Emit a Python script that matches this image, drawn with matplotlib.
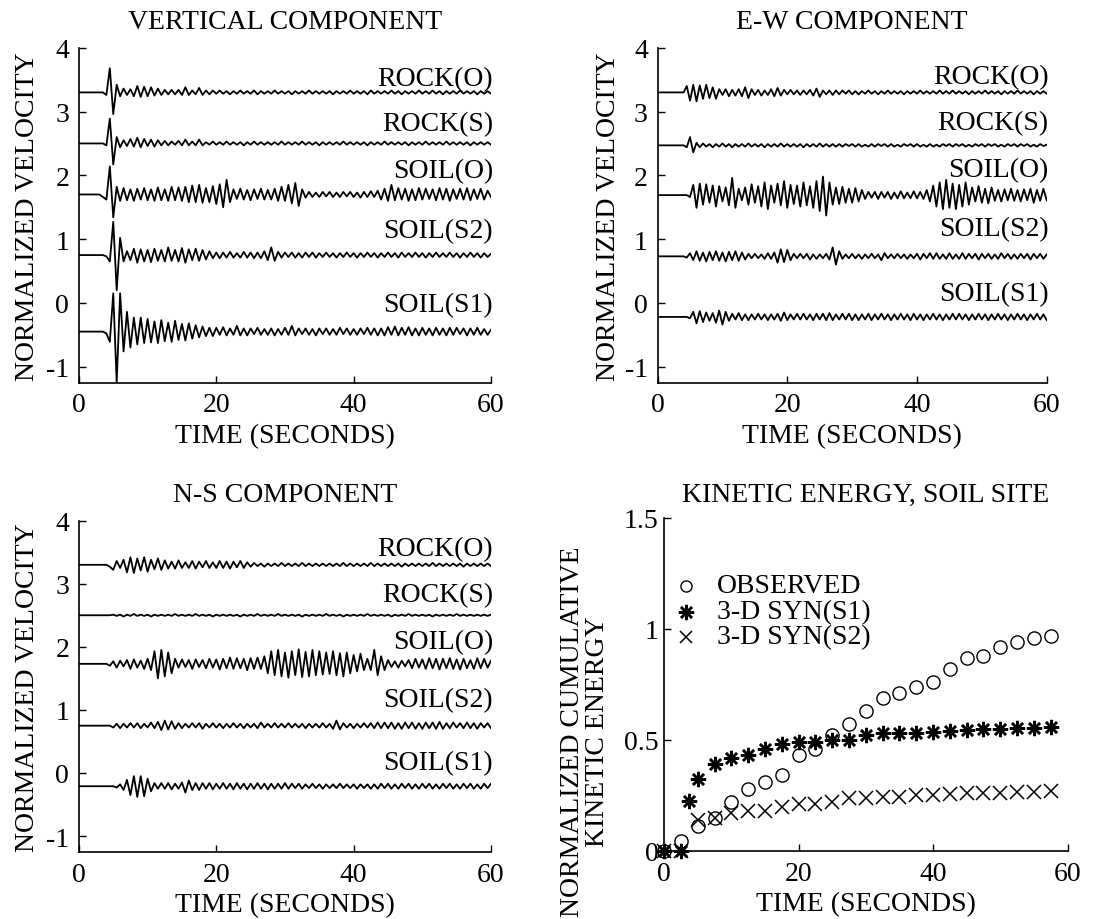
import matplotlib.pyplot as plt
import numpy as np

plt.rcParams['font.family'] = ['Liberation Serif', 'DejaVu Serif']
plt.rcParams['font.size'] = 20
plt.rcParams['axes.unicode_minus'] = False

# ---- seismogram data: signed half-cycle peaks (hundredths), 0.5 s apart ----
trace_names = ['ROCK(O)', 'ROCK(S)', 'SOIL(O)', 'SOIL(S2)', 'SOIL(S1)']
step = 0.5

# vertical component
vert_bases = [3.3, 2.5, 1.7, 0.75, -0.45]
vert_label_y = [3.52, 2.81, 2.08, 1.14, -0.02]
vert_onsets = [4.0, 4.0, 3.5, 4.0, 4.0]
vert_rock_o = [-4, 38, -34, 12, -6, 6, -4, 5, -6, 10, -7, 9, -6, 8, -5, 6,
               -4, 4, -3, 4, -3, 4, -4, 8, -4, 3, -3, 7, -4, 3, -3, 3,
               -2, 3, -2, 2, -3, 2, -2, 3, -2, 2, -2, 3, -3, 2, -2, 2,
               -2, 3, -2, 2, -2, 2, -3, 2, -2, 2, -2, 3, -2, 2, -2, 2,
               -2, 2, -3, 2, -2, 2, -2, 3, -2, 2, -2, 2, -3, 3, -2, 2,
               -2, 2, -2, 3, -2, 2, -3, 2, -2, 2, -2, 3, -2, 2, -2, 3,
               -2, 2, -3, 2, -2, 2, -2, 3, -2, 2, -2, 2, -3, 2, -2, 2, -2]
vert_rock_s = [-3, 39, -33, 10, -6, 5, -4, 7, -5, 9, -6, 7, -4, 6, -5, 5,
               -3, 4, -3, 3, -2, 4, -3, 6, -3, 3, -3, 6, -3, 2, -2, 3,
               -2, 2, -2, 3, -2, 2, -2, 2, -3, 2, -2, 3, -2, 2, -2, 2,
               -2, 2, -2, 3, -2, 2, -2, 2, -2, 3, -2, 2, -2, 2, -3, 2,
               -2, 2, -2, 2, -2, 3, -2, 2, -2, 2, -2, 2, -3, 2, -2, 2,
               -2, 3, -2, 2, -2, 2, -2, 2, -3, 2, -2, 2, -2, 3, -2, 2,
               -2, 2, -2, 3, -2, 2, -2, 2, -2, 2, -3, 2, -2, 2, -2, 2, -2]
vert_soil_o = [-4, -8, 44, -36, 12, -10, 10, -9, 8, -10, 9, -8, 10, -9, 8, -10,
               11, -9, 8, -10, 12, -9, 11, -10, 12, -12, 14, -12, 15, -13, 10, -12,
               13, -15, 16, -20, 23, -12, 8, -7, 9, -8, 7, -9, 8, -7, 9, -8,
               7, -8, 9, -10, 12, -10, 15, -14, 18, -18, 8, -5, 4, -4, 3, -4,
               4, -3, 4, -4, 3, -4, 4, -3, 4, -4, 3, -5, 4, -4, 5, -4,
               6, -8, 9, -10, 15, -9, 10, -8, 9, -10, 8, -9, 10, -8, 9, -7,
               8, -9, 10, -8, 9, -10, 8, -7, 9, -8, 10, -9, 8, -7, 9, -8,
               6, -4]
vert_soil_s2 = [-2, -10, 52, -55, 27, -10, 6, -8, 10, -12, 9, -10, 8, -11, 10, -9,
                8, -10, 12, -9, 8, -10, 11, -12, 9, -8, 10, -9, 8, -7, 6, -5,
                4, -5, 4, -4, 5, -4, 3, -4, 5, -4, 4, -5, 4, -5, 6, -8,
                12, -9, 5, -4, 4, -3, 4, -4, 3, -4, 4, -3, 4, -4, 3, -3,
                4, -3, 3, -4, 3, -3, 4, -3, 3, -4, 3, -3, 4, -3, 3, -4,
                3, -3, 4, -3, 3, -4, 4, -3, 3, -3, 4, -3, 3, -4, 3, -3,
                4, -3, 3, -3, 4, -3, 3, -4, 3, -3, 4, -3, 3, -4, 3, -3, 2]
vert_soil_s1 = [-3, -16, 60, -80, 60, -31, 31, -25, 22, -20, 22, -18, 20, -17, 16, -18,
                18, -15, 14, -16, 17, -13, 12, -14, 13, -11, 10, -9, 8, -7, 6, -7,
                6, -5, 7, -6, 5, -5, 9, -6, 5, -6, 5, -4, 6, -5, 4, -5,
                5, -6, 4, -5, 6, -5, 9, -6, 5, -4, 5, -5, 4, -6, 5, -4,
                5, -5, 4, -5, 6, -4, 5, -5, 4, -5, 5, -4, 6, -5, 5, -6,
                5, -6, 7, -5, 8, -6, 6, -5, 7, -6, 5, -6, 6, -5, 5, -6,
                6, -5, 5, -6, 6, -5, 6, -4, 5, -6, 5, -5, 6, -5, 4, -5, 3]

# E-W component
ew_bases = [3.3, 2.47, 1.69, 0.73, -0.22]
ew_label_y = [3.55, 2.83, 2.09, 1.16, 0.15]
ew_onsets = [4.5, 4.5, 5.0, 4.5, 5.0]
ew_rock_o = [10, -13, 12, -14, 11, -10, 12, -9, 8, -10, 5, -4, 5, -6, 4, -5,
             5, -6, 8, -9, 5, -4, 4, -5, 3, -4, 5, -6, 7, -5, 4, -3,
             4, -3, 3, -4, 3, -3, 4, -5, 6, -7, 3, -3, 3, -4, 3, -3,
             3, -2, 3, -3, 2, -3, 2, -2, 3, -2, 2, -3, 2, -2, 3, -2,
             2, -2, 2, -3, 2, -2, 2, -2, 3, -2, 2, -2, 2, -2, 3, -2,
             2, -2, 3, -2, 2, -2, 2, -3, 2, -2, 2, -2, 3, -2, 2, -2,
             2, -3, 2, -2, 2, -2, 3, -2, 2, -2, 2, -3, 2, -2, 2, -2]
ew_rock_s = [-3, 13, -11, 4, -3, 3, -2, 2, -3, 2, -2, 3, -2, 2, -3, 2,
             -2, 2, -2, 3, -2, 2, -2, 2, -3, 2, -2, 2, -2, 3, -2, 2,
             -2, 2, -2, 2, -3, 2, -2, 2, -2, 3, -2, 2, -2, 2, -2, 2,
             -2, 2, -1, 2, -2, 2, -2, 1, -2, 2, -2, 2, -1, 2, -2, 2,
             -2, 1, -2, 2, -1, 2, -2, 2, -2, 1, -2, 2, -2, 1, -2, 2,
             -1, 2, -2, 2, -1, 2, -2, 1, -2, 2, -1, 2, -2, 2, -1, 2,
             -2, 1, -2, 2, -1, 2, -2, 2, -1, 2, -2, 1, -2, 2, -1, 1]
ew_soil_o = [-3, 16, -20, 18, -15, 17, -12, 15, -18, 14, -10, 12, -16, 27, -20, 10,
             -8, 12, -15, 17, -12, 14, -18, 20, -22, 15, -12, 18, -16, 22, -20, 16,
             -14, 15, -18, 20, -16, 14, -20, 22, -25, 29, -32, 20, -15, 12, -14, 13,
             -12, 10, -12, 11, -10, 8, -6, 5, -4, 5, -6, 5, -4, 5, -6, 4,
             -5, 6, -5, 4, -5, 6, -5, 5, -6, 8, -10, 15, -18, 20, -22, 24,
             -20, 18, -22, 16, -18, 20, -15, 12, -10, 14, -12, 10, -13, 12, -9, 8,
             -10, 9, -8, 10, -9, 8, -10, 9, -8, 10, -12, 8, -9, 10, -8]
ew_soil_s2 = [-2, 5, -6, 8, -7, 6, -8, 7, -6, 8, -7, 6, -8, 7, -6, 8,
              -7, 6, -5, 4, -3, 4, -3, 3, -4, 5, -4, 6, -10, 11, -9, 10,
              -6, 4, -3, 4, -3, 4, -5, 3, -4, 3, -3, 4, -5, 14, -13, 8,
              -4, 3, -3, 4, -3, 3, -4, 3, -3, 4, -3, 3, -6, 5, -3, 3,
              -3, 4, -3, 3, -4, 3, -3, 4, -5, 4, -3, 5, -4, 5, -4, 3,
              -4, 5, -4, 3, -4, 5, -4, 4, -3, 4, -5, 4, -3, 4, -4, 3,
              -4, 5, -3, 4, -4, 3, -4, 4, -3, 4, -5, 4, -3, 4, -4, 3]
ew_soil_s1 = [-2, 8, -10, 9, -8, 7, -6, 6, -9, 10, -12, 8, -6, 5, -4, 6,
              -5, 4, -5, 4, -4, 5, -4, 4, -5, 4, -4, 5, -6, 7, -5, 4,
              -4, 5, -4, 5, -4, 4, -5, 5, -4, 5, -5, 6, -5, 4, -4, 5,
              -4, 5, -5, 4, -5, 4, -4, 5, -5, 4, -4, 5, -4, 4, -5, 4,
              -4, 5, -4, 4, -5, 5, -4, 4, -5, 4, -4, 5, -4, 4, -5, 4,
              -4, 5, -4, 5, -4, 4, -5, 4, -4, 5, -4, 4, -5, 4, -4, 5,
              -4, 4, -5, 4, -4, 5, -4, 4, -5, 4, -4, 5, -4, 4, -5]

# N-S component
ns_bases = [3.3, 2.5, 1.73, 0.75, -0.21]
ns_label_y = [3.55, 2.83, 2.09, 1.16, 0.16]
ns_onsets = [4.5, 5.0, 4.5, 5.0, 5.5]
ns_rock_o = [-3, -8, 6, -5, 8, -12, 12, -13, 10, -9, 12, -11, 8, -7, 10, -8,
             7, -6, 5, -6, 7, -5, 4, -5, 6, -6, 5, -4, 6, -5, 4, -5,
             6, -5, 5, -6, 5, -4, 6, -5, 4, -3, 3, -2, 2, -3, 2, -2,
             2, -2, 3, -2, 2, -2, 2, -2, 3, -2, 2, -2, 2, -2, 2, -2,
             2, -2, 2, -2, 3, -2, 2, -2, 2, -2, 2, -2, 3, -2, 2, -2,
             2, -2, 2, -2, 2, -3, 2, -2, 2, -2, 2, -2, 2, -2, 3, -2,
             2, -2, 2, -2, 2, -2, 2, -3, 2, -2, 2, -2, 2, -2, 2, -2]
ns_rock_s = [1, -1, 1, -2, 1, -1, 2, -1, 1, -1, 1, -2, 1, -1, 1, -1,
             1, -1, 2, -1, 1, -1, 1, -1, 2, -1, 1, -1, 1, -2, 1, -1,
             1, -1, 1, -1, 1, -2, 1, -1, 1, -1, 2, -1, 1, -1, 1, -1,
             2, -1, 1, -1, 1, -1, 1, -2, 1, -1, 1, -1, 1, -1, 2, -1,
             1, -1, 1, -2, 1, -1, 1, -1, 1, -1, 2, -1, 1, -1, 1, -1,
             1, -2, 1, -1, 1, -1, 2, -1, 1, -1, 1, -1, 1, -2, 1, -1,
             1, -1, 1, -1, 2, -1, 1, -1, 1, -1, 1, -1, 1, -1, 1]
ns_soil_o = [-3, 4, -6, 5, -4, 6, -8, 7, -6, 5, -8, 8, -10, 20, -23, 22,
             -20, 18, -15, 8, -6, 7, -5, 6, -8, 7, -5, 6, -7, 8, -6, 7,
             -9, 8, -7, 10, -8, 9, -7, 8, -10, 9, -8, 10, -8, 12, -15, 20,
             -18, 22, -20, 18, -22, 20, -18, 23, -21, 19, -20, 22, -18, 20, -17, 18,
             -16, 20, -18, 17, -20, 18, -15, 14, -12, 16, -10, 8, -10, 22, -18, 12,
             -10, 6, -5, 4, -6, 5, -4, 6, -7, 8, -6, 7, -8, 9, -7, 8,
             -9, 8, -7, 9, -8, 7, -9, 8, -7, 6, -8, 9, -7, 8, -6, 5]
ns_soil_s2 = [-3, 3, -4, 3, -3, 4, -3, 4, -4, 3, -3, 5, -4, 6, -7, 8,
              -6, 7, -5, 4, -4, 3, -3, 4, -3, 4, -5, 3, -3, 4, -3, 3,
              -4, 3, -3, 4, -3, 3, -4, 3, -3, 3, -4, 5, -3, 3, -3, 4,
              -3, 3, -3, 4, -3, 3, -3, 3, -4, 3, -3, 3, -3, 4, -3, 3,
              -5, 8, -6, 4, -3, 3, -4, 3, -3, 4, -3, 4, -4, 5, -4, 5,
              -4, 5, -5, 4, -5, 5, -4, 5, -5, 4, -5, 5, -4, 5, -5, 6,
              -5, 4, -4, 5, -3, 4, -4, 5, -4, 4, -5, 4, -3, 4, -4]
ns_soil_s1 = [-2, 3, -6, 10, -14, 16, -17, 16, -16, 12, -8, 5, -4, 5, -4, 5,
              -5, 4, -4, 6, -10, 9, -6, 5, -6, 5, -4, 5, -5, 4, -4, 5,
              -4, 4, -5, 5, -4, 4, -5, 4, -4, 5, -4, 4, -5, 4, -4, 4,
              -4, 5, -4, 4, -3, 4, -4, 3, -3, 4, -3, 3, -4, 3, -3, 3,
              -3, 4, -3, 3, -3, 3, -4, 3, -3, 3, -4, 3, -4, 4, -3, 4,
              -4, 3, -4, 4, -3, 4, -4, 3, -4, 4, -3, 4, -4, 3, -4, 4,
              -3, 4, -4, 3, -4, 4, -3, 4, -4, 3, -4, 4, -3, 4]

# ---- kinetic energy, soil site ----
ke_obs_t = [0, 2.5, 5, 7.5, 10, 12.5, 15, 17.5, 20, 22.5, 25, 27.5,
            30, 32.5, 35, 37.5, 40, 42.5, 45, 47.5, 50, 52.5, 55, 57.5]
ke_obs = [0.0, 0.045, 0.11, 0.15, 0.22, 0.28, 0.31, 0.34, 0.43, 0.46, 0.52, 0.57,
          0.63, 0.69, 0.71, 0.74, 0.76, 0.82, 0.87, 0.88, 0.92, 0.94, 0.96, 0.97]
ke_s1_t = [0, 2.5, 3.75, 5, 7.5, 10, 12.5, 15, 17.5, 20, 22.5, 25, 27.5,
           30, 32.5, 35, 37.5, 40, 42.5, 45, 47.5, 50, 52.5, 55, 57.5]
ke_s1 = [0.0, 0.0, 0.226, 0.324, 0.39, 0.42, 0.43, 0.46, 0.48, 0.49, 0.49, 0.50, 0.50,
         0.52, 0.53, 0.53, 0.53, 0.535, 0.54, 0.545, 0.55, 0.55, 0.555, 0.555, 0.557]
ke_s2_t = [0, 2.5, 5, 7.5, 10, 12.5, 15, 17.5, 20, 22.5, 25, 27.5,
           30, 32.5, 35, 37.5, 40, 42.5, 45, 47.5, 50, 52.5, 55, 57.5]
ke_s2 = [0.0, 0.0, 0.14, 0.15, 0.17, 0.18, 0.18, 0.20, 0.21, 0.21, 0.22, 0.24,
         0.24, 0.245, 0.245, 0.25, 0.25, 0.256, 0.26, 0.263, 0.263, 0.266, 0.266, 0.27]
ke_labels = ['OBSERVED', '3-D SYN(S1)', '3-D SYN(S2)']

star = (8, 2, 0)


def style_axes(ax):
    for s in ['top', 'right']:
        ax.spines[s].set_visible(False)
    for s in ['left', 'bottom']:
        ax.spines[s].set_linewidth(1.2)
    ax.tick_params(direction='in', length=5, width=1, pad=7)
    ax.set_xlim(0, 60)
    ax.set_xticks([0, 20, 40, 60])
    ax.set_xlabel('TIME (SECONDS)', labelpad=4)


def draw_traces(ax, title, bases, onsets, label_ys, amps):
    for name, base, t0, ly, a in zip(trace_names, bases, onsets, label_ys, amps):
        v = np.array(a) / 100.0
        t = t0 + step * np.arange(len(v))
        t = np.concatenate([[0.0, t0 - step], t])
        v = np.concatenate([[0.0, 0.0], v])
        keep = t <= 60
        ax.plot(t[keep], base + v[keep], color='k', lw=1.3)
        ax.text(60.3, ly, name, ha='right', va='center')
    ax.set_ylim(-1.25, 4)
    ax.set_yticks([-1, 0, 1, 2, 3, 4])
    style_axes(ax)
    ax.set_ylabel('NORMALIZED VELOCITY')
    ax.yaxis.set_label_coords(-0.095, 0.5)
    ax.set_title(title, pad=14, fontsize=20)


fig = plt.figure(figsize=(10.96, 9.2), dpi=100)

ax1 = fig.add_axes([0.072, 0.583, 0.376, 0.364])
draw_traces(ax1, 'VERTICAL COMPONENT', vert_bases, vert_onsets, vert_label_y,
            [vert_rock_o, vert_rock_s, vert_soil_o, vert_soil_s2, vert_soil_s1])

ax2 = fig.add_axes([0.600, 0.583, 0.355, 0.364])
draw_traces(ax2, 'E-W COMPONENT', ew_bases, ew_onsets, ew_label_y,
            [ew_rock_o, ew_rock_s, ew_soil_o, ew_soil_s2, ew_soil_s1])

ax3 = fig.add_axes([0.072, 0.073, 0.376, 0.360])
draw_traces(ax3, 'N-S COMPONENT', ns_bases, ns_onsets, ns_label_y,
            [ns_rock_o, ns_rock_s, ns_soil_o, ns_soil_s2, ns_soil_s1])

ax4 = fig.add_axes([0.606, 0.074, 0.368, 0.362])
ax4.plot(ke_obs_t, ke_obs, 'o', ms=9.5, mfc='none', mec='k', mew=1, clip_on=False)
ax4.plot(ke_s1_t, ke_s1, marker=star, ls='none', ms=11, mec='k', mew=1.8, clip_on=False)
ax4.plot(ke_s2_t, ke_s2, 'x', ms=10, mec='k', mew=1.1, clip_on=False)
ax4.set_ylim(0, 1.5)
ax4.set_yticks([0, 0.5, 1, 1.5])
ax4.set_yticklabels(['0', '0.5', '1', '1.5'])
style_axes(ax4)
ax4.tick_params(axis='y', pad=4)
ax4.set_title('KINETIC ENERGY, SOIL SITE', pad=12, fontsize=20)

# legend, drawn by hand to keep the tight row spacing of the original
leg_y = [0.796, 0.718, 0.643]
ax4.plot(0.055, leg_y[0], 'o', ms=8, mfc='none', mec='k', mew=1, transform=ax4.transAxes, clip_on=False)
ax4.plot(0.055, leg_y[1], marker=star, ms=11, mec='k', mew=1.8, transform=ax4.transAxes, clip_on=False)
ax4.plot(0.055, leg_y[2], 'x', ms=9, mec='k', mew=1.1, transform=ax4.transAxes, clip_on=False)
for ly, lab in zip(leg_y, ke_labels):
    ax4.text(0.13, ly, lab, transform=ax4.transAxes, va='center', ha='left')

fig.text(585 / 1096, 1 - 732 / 920, 'NORMALIZED CUMULATIVE\nKINETIC ENERGY',
         rotation=90, ha='center', va='center', multialignment='center', linespacing=0.95)

fig.savefig('out.png', dpi=100)
